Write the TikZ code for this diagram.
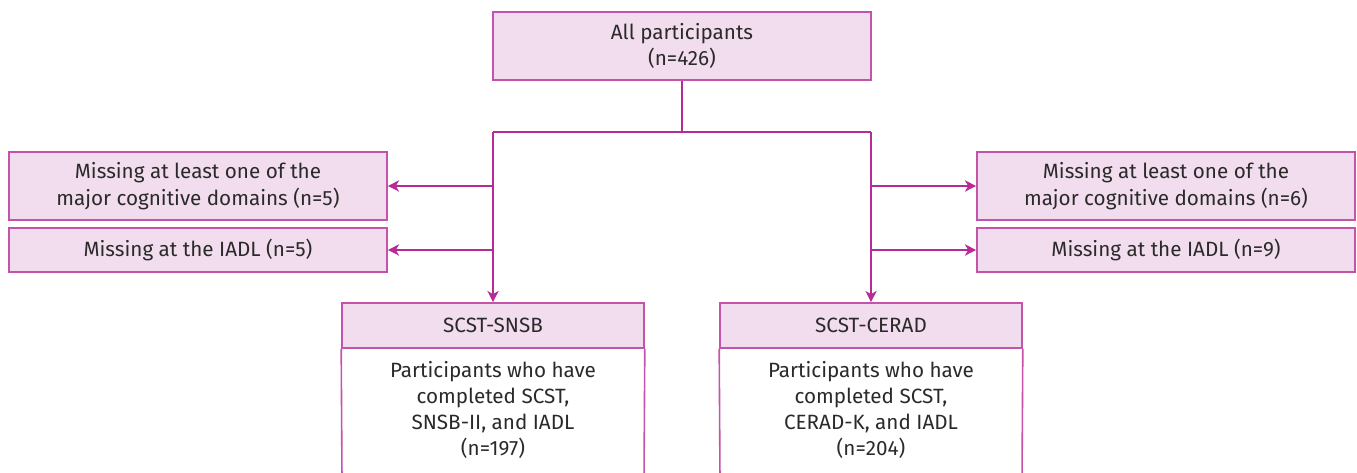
\documentclass[tikz,border=0pt]{standalone}
\usepackage{fontspec}
\setmainfont{Fira Sans}[Scale=1]
\usetikzlibrary{arrows.meta}
\definecolor{boxfill}{HTML}{F2DDEE}
\definecolor{boxdraw}{HTML}{C453AC}
\definecolor{linec}{HTML}{B52C98}
\definecolor{txt}{HTML}{2A2A2A}
\tikzset{
  pbox/.style={draw=boxdraw, fill=boxfill, line width=1.2pt, inner sep=0pt, align=center, text=txt,
    font=\fontsize{15.5pt}{20pt}\selectfont, minimum width=283.5pt},
  hdrbox/.style={pbox, minimum width=226.5pt, minimum height=33.75pt},
  bodytext/.style={inner sep=0pt, align=center, text=txt, font=\fontsize{15.5pt}{19.3pt}\selectfont},
  conn/.style={draw=linec, line width=1pt},
  arr/.style={conn, -{Stealth[length=8.5pt,width=8.5pt,inset=2.5pt]}},
}
\begin{document}
\begin{tikzpicture}[x=0.75pt,y=-0.75pt]
\useasboundingbox (0,0) rectangle (1357,473);
\node[pbox, minimum height=51pt] (top) at (682,46) {All participants\\(n=426)};
\node[pbox, minimum height=51pt] (l1) at (198,186) {Missing at least one of the\\major cognitive domains (n=5)};
\node[pbox, minimum height=33pt] (l2) at (198,250) {Missing at the IADL (n=5)};
\node[pbox, minimum height=51pt] (r1) at (1166,186) {Missing at least one of the\\major cognitive domains (n=6)};
\node[pbox, minimum height=33pt] (r2) at (1166,250) {Missing at the IADL (n=9)};
\node[hdrbox] (h1) at (493,325.5) {SCST-SNSB};
\node[hdrbox] (h2) at (871,325.5) {SCST-CERAD};
\draw[draw=boxdraw, line width=1.2pt] (h1.south west) -- (342,480) (h1.south east) -- (644,480);
\draw[draw=boxdraw, line width=1.2pt] (h2.south west) -- (720,480) (h2.south east) -- (1022,480);
\node[bodytext] (b1) at (493,410) {Participants who have\\completed SCST,\\SNSB-II, and IADL\\(n=197)};
\node[bodytext] (b2) at (871,410) {Participants who have\\completed SCST,\\CERAD-K, and IADL\\(n=204)};
\coordinate (jt) at (682,132);
\coordinate (jl) at (h1.north |- jt);
\coordinate (jr) at (h2.north |- jt);
\draw[conn] (top.south) -- (jt);
\draw[conn] (jl) -- (jr);
\draw[arr] (jl) -- (h1.north);
\draw[arr] (jr) -- (h2.north);
\draw[arr] (jl |- l1.east) -- (l1.east);
\draw[arr] (jl |- l2.east) -- (l2.east);
\draw[arr] (jr |- r1.west) -- (r1.west);
\draw[arr] (jr |- r2.west) -- (r2.west);
\end{tikzpicture}
\end{document}
